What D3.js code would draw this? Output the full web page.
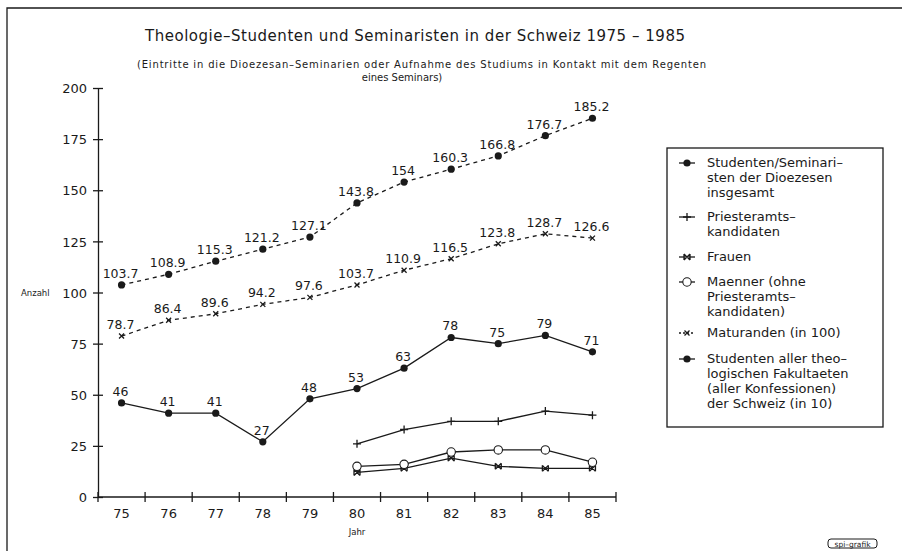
<!DOCTYPE html>
<html>
<head>
<meta charset="utf-8">
<script src="https://cdn.jsdelivr.net/npm/d3@7"></script>
<style>
	body { margin: 0; background: #fff; }
	svg text { font-family: "DejaVu Sans", sans-serif; fill: #1a1a1a; }
	.ln { fill: none; stroke: #1a1a1a; stroke-width: 1.3; }
</style>
</head>
<body>
<div id="chart"></div>
<script>
// jahre 1975 - 1985
var years = ["75", "76", "77", "78", "79", "80", "81", "82", "83", "84", "85"];
var yTicks = [0, 25, 50, 75, 100, 125, 150, 175, 200];

var dioezesen = [103.7, 108.9, 115.3, 121.2, 127.1, 143.8, 154, 160.3, 166.8, 176.7, 185.2];
var maturanden = [78.7, 86.4, 89.6, 94.2, 97.6, 103.7, 110.9, 116.5, 123.8, 128.7, 126.6];
var fakultaeten = [46, 41, 41, 27, 48, 53, 63, 78, 75, 79, 71];

// nur 1980 - 1985
var subYears = ["80", "81", "82", "83", "84", "85"];
var priester = [26, 33, 37, 37, 42, 40];
var maenner = [15, 16, 22, 23, 23, 17];
var frauen = [12, 14, 19, 15, 14, 14];

var legendItems = [
	{ sym: "dot", dash: false, lines: ["Studenten/Seminari\u2013", "sten der Dioezesen", "insgesamt"] },
	{ sym: "plus", dash: false, lines: ["Priesteramts\u2013", "kandidaten"] },
	{ sym: "bow", dash: false, lines: ["Frauen"] },
	{ sym: "ring", dash: false, lines: ["Maenner (ohne", "Priesteramts\u2013", "kandidaten)"] },
	{ sym: "cross", dash: true, lines: ["Maturanden (in 100)"] },
	{ sym: "dot", dash: false, lines: ["Studenten aller theo\u2013", "logischen Fakultaeten", "(aller Konfessionen)", "der Schweiz (in 10)"] }
];
var legendY = [167, 221, 261, 286, 337, 363];

var width = 902, height = 557;

var svg = d3.select("#chart").append("svg")
	.attr("width", width)
	.attr("height", height);

// rahmen
svg.append("path").attr("class", "ln")
	.attr("d", "M7,551 L7,8 L902,8");

// titel
svg.append("text")
	.attr("x", 145).attr("y", 41)
	.attr("font-size", 15)
	.attr("textLength", 540)
	.text("Theologie\u2013Studenten und Seminaristen in der Schweiz 1975 \u2013 1985");
svg.append("text")
	.attr("x", 137).attr("y", 68)
	.attr("font-size", 10)
	.attr("textLength", 569)
	.text("(Eintritte in die Dioezesan\u2013Seminarien oder Aufnahme des Studiums in Kontakt mit dem Regenten");
svg.append("text")
	.attr("x", 402).attr("y", 81)
	.attr("text-anchor", "middle")
	.attr("font-size", 10)
	.text("eines Seminars)");

var x = d3.scaleBand().domain(years).range([98, 616]);
var cx = d => x(d) + x.bandwidth() / 2;
var y = d3.scaleLinear().domain([0, 200]).range([497, 88]);

// y achse
var yAxis = svg.append("g")
	.attr("transform", "translate(98,0)")
	.call(d3.axisLeft(y).tickValues(yTicks).tickSize(5).tickSizeOuter(0));
yAxis.select(".domain").attr("stroke", "#1a1a1a").attr("stroke-width", 1.3);
yAxis.selectAll(".tick line").attr("x1", -5).attr("x2", 5).attr("stroke", "#1a1a1a").attr("stroke-width", 1.3);
yAxis.selectAll(".tick text")
	.attr("x", -11).attr("dy", "0.36em")
	.attr("font-size", 13).attr("font-family", null);

svg.append("text")
	.attr("x", 21).attr("y", 296)
	.attr("font-size", 8.5)
	.text("Anzahl");

// x achse
var xAxis = svg.append("g").attr("transform", "translate(0,497)");
xAxis.append("line").attr("class", "ln")
	.attr("x1", 98).attr("x2", 616);
var bounds = years.map(d => x(d)).concat([x(years[years.length - 1]) + x.bandwidth()]);
xAxis.selectAll("line.tk").data(bounds).enter().append("line")
	.attr("class", "ln tk")
	.attr("x1", d => d).attr("x2", d => d)
	.attr("y1", -5).attr("y2", 5);
xAxis.selectAll("text").data(years).enter().append("text")
	.attr("x", d => cx(d)).attr("y", 21)
	.attr("text-anchor", "middle")
	.attr("font-size", 13)
	.text(d => d);

svg.append("text")
	.attr("x", 357).attr("y", 535)
	.attr("text-anchor", "middle")
	.attr("font-size", 8.5)
	.text("Jahr");

// symbole
function drawSym(g, type, px, py) {
	if (type == "dot") {
		g.append("circle").attr("cx", px).attr("cy", py).attr("r", 3.6).attr("fill", "#1a1a1a");
	} else if (type == "ring") {
		g.append("circle").attr("cx", px).attr("cy", py).attr("r", 4.2)
			.attr("fill", "#fff").attr("stroke", "#1a1a1a").attr("stroke-width", 1.1);
	} else if (type == "plus") {
		g.append("path").attr("class", "ln")
			.attr("d", "M" + (px - 4) + "," + py + "h8M" + px + "," + (py - 4) + "v8");
	} else if (type == "cross") {
		g.append("path").attr("class", "ln").attr("stroke-width", 1)
			.attr("d", "M" + (px - 2.5) + "," + (py - 2.5) + "l5,5M" + (px - 2.5) + "," + (py + 2.5) + "l5,-5");
	} else if (type == "bow") {
		g.append("path").attr("class", "ln").attr("stroke-width", 1)
			.attr("d", "M" + (px - 3) + "," + (py - 3) + "l6,6M" + (px - 3) + "," + (py + 3) + "l6,-6" +
				"M" + (px - 3) + "," + (py - 3) + "v6M" + (px + 3) + "," + (py - 3) + "v6");
	}
}

function drawSeries(cats, vals, sym, dashed, labels) {
	var pts = cats.map((c, i) => [cx(c), y(vals[i])]);
	var g = svg.append("g");
	g.append("path").attr("class", "ln")
		.attr("stroke-dasharray", dashed ? "4,4" : null)
		.attr("d", d3.line()(pts));
	pts.forEach(p => drawSym(g, sym, p[0], p[1]));
	if (labels) {
		g.selectAll("text").data(vals).enter().append("text")
			.attr("x", (d, i) => pts[i][0] - 1)
			.attr("y", (d, i) => pts[i][1] - 7)
			.attr("text-anchor", "middle")
			.attr("font-size", 12.5)
			.text(d => d);
	}
}

drawSeries(years, dioezesen, "dot", true, true);
drawSeries(years, maturanden, "cross", true, true);
drawSeries(years, fakultaeten, "dot", false, true);
drawSeries(subYears, priester, "plus", false, false);
drawSeries(subYears, frauen, "bow", false, false);
drawSeries(subYears, maenner, "ring", false, false);

// legende
var leg = svg.append("g");
leg.append("rect").attr("class", "ln")
	.attr("x", 667).attr("y", 148).attr("width", 216).attr("height", 279);
legendItems.forEach(function(item, i) {
	var ly = legendY[i];
	leg.append("line").attr("class", "ln")
		.attr("stroke-dasharray", item.dash ? "2,2" : null)
		.attr("x1", 679).attr("x2", 695)
		.attr("y1", ly - 4).attr("y2", ly - 4);
	drawSym(leg, item.sym, 687, ly - 4);
	var t = leg.append("text").attr("x", 707).attr("y", ly).attr("font-size", 13);
	item.lines.forEach(function(s, j) {
		t.append("tspan").attr("x", 707).attr("dy", j == 0 ? 0 : 15).text(s);
	});
});

// stempel
svg.append("rect")
	.attr("x", 828).attr("y", 539).attr("width", 49).attr("height", 9).attr("rx", 3)
	.attr("fill", "none").attr("stroke", "#1a1a1a").attr("stroke-width", 1);
svg.append("text")
	.attr("x", 852.5).attr("y", 546.5)
	.attr("text-anchor", "middle")
	.attr("font-size", 7.5)
	.text("spi\u2013grafik");
</script>
</body>
</html>
